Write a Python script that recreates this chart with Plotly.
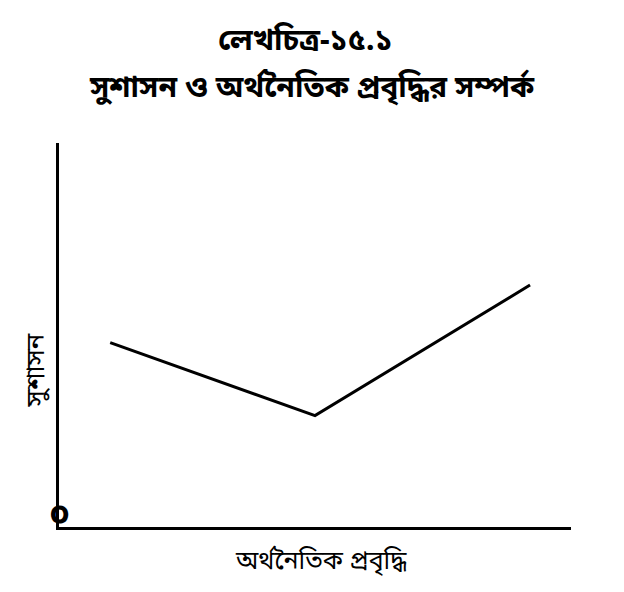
import plotly.graph_objects as go

# Data (arbitrary units)
growth = [10, 50, 92]          # অর্থনৈতিক প্রবৃদ্ধি
governance = [48, 29, 63]      # সুশাসন

title_line1 = "লেখচিত্র-১৫.১"
title_line2 = "সুশাসন ও অর্থনৈতিক প্রবৃদ্ধির সম্পর্ক"
x_label = "অর্থনৈতিক প্রবৃদ্ধি"
y_label = "সুশাসন"
origin_label = "০"

FONT = "Noto Sans Bengali, Noto Sans, sans-serif"

fig = go.Figure()
fig.add_trace(go.Scatter(
    x=growth, y=governance, mode="lines",
    line=dict(color="black", width=3),
    showlegend=False, hoverinfo="skip",
))

fig.update_layout(
    width=624, height=592,
    margin=dict(l=51, r=61, t=135, b=73),
    paper_bgcolor="white", plot_bgcolor="white",
    font=dict(family=FONT, color="black"),
    xaxis=dict(range=[0, 100], showline=True, linecolor="black", linewidth=3,
               showgrid=False, zeroline=False, showticklabels=False, ticks=""),
    yaxis=dict(range=[0, 100], showline=True, linecolor="black", linewidth=3,
               showgrid=False, zeroline=False, showticklabels=False, ticks=""),
    annotations=[
        dict(text="<b>" + title_line1 + "</b>", xref="paper", yref="paper",
             x=0.482, y=1.262, xanchor="center", yanchor="middle",
             showarrow=False, font=dict(size=30, family=FONT)),
        dict(text="<b>" + title_line2 + "</b>", xref="paper", yref="paper",
             x=0.494, y=1.14, xanchor="center", yanchor="middle",
             showarrow=False, font=dict(size=30, family=FONT)),
        dict(text=x_label, xref="paper", yref="paper",
             x=0.512, y=-0.091, xanchor="center", yanchor="middle",
             showarrow=False, font=dict(size=25, family=FONT)),
        dict(text=y_label, xref="paper", yref="paper", textangle=-90,
             x=-0.042, y=0.409, xanchor="center", yanchor="middle",
             showarrow=False, font=dict(size=26, family=FONT)),
        dict(text="<b>" + origin_label + "</b>", xref="x", yref="y",
             x=0, y=0, xanchor="center", yanchor="bottom", yshift=-14, xshift=0,
             showarrow=False, font=dict(size=34, family=FONT)),
    ],
)

fig.write_html("out.html")
